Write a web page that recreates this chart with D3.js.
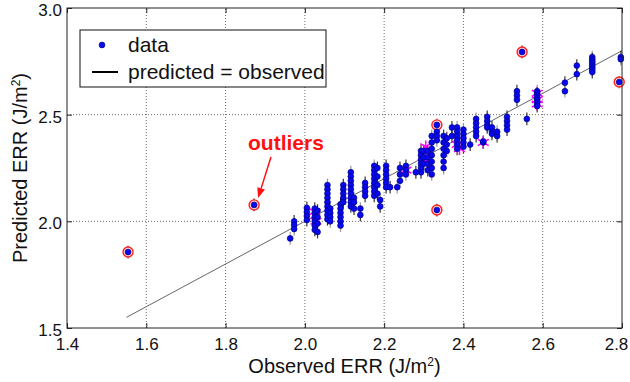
<!DOCTYPE html>
<html>
<head>
<meta charset="utf-8">
<script src="https://cdn.jsdelivr.net/npm/d3@7"></script>
<style>
  body { margin: 0; background: #fff; }
  text { font-family: "Liberation Sans", Arial, sans-serif; }
</style>
</head>
<body>
<svg id="chart" width="630" height="382"></svg>
<script>
// observed ERR of each specimen group, and the predicted values for that group
const observedGroups = [1.963, 1.973, 2.005, 2.025, 2.032, 2.057, 2.064, 2.09, 2.097, 2.116,
    2.124, 2.14, 2.152, 2.175, 2.183, 2.19, 2.205, 2.215, 2.233, 2.24,
    2.255, 2.28, 2.293, 2.30, 2.31, 2.32, 2.333, 2.35, 2.358, 2.371,
    2.384, 2.40, 2.417, 2.432, 2.45, 2.46, 2.472, 2.485, 2.51, 2.535,
    2.56, 2.586, 2.656, 2.686, 2.725, 2.797];
const predictedGroups = [
    [1.92],
    [2.00, 1.983, 1.964],
    [2.063, 2.044, 2.025, 2.006],
    [2.06, 2.04, 2.02, 2.0, 1.98, 1.96],
    [2.05, 2.02, 1.99, 1.95],
    [2.17, 2.15, 2.13, 2.11, 2.09, 2.07, 2.05, 2.03, 2.01],
    [2.06, 2.04, 2.02, 2.0],
    [2.08, 2.06, 2.04, 2.02, 2.0, 1.98],
    [2.17, 2.15, 2.13, 2.11, 2.09],
    [2.23, 2.21, 2.19, 2.17, 2.15, 2.13, 2.11, 2.09, 2.07],
    [2.11, 2.09, 2.06],
    [2.06, 2.03],
    [2.18, 2.16, 2.14, 2.12],
    [2.26, 2.24, 2.22, 2.20, 2.18, 2.16, 2.14, 2.12],
    [2.25, 2.21, 2.17, 2.13],
    [2.10, 2.07],
    [2.26, 2.24, 2.22, 2.20, 2.18, 2.16],
    [2.16],
    [2.16],
    [2.25, 2.22, 2.19],
    [2.26, 2.24, 2.22],
    [2.23],
    [2.33, 2.31, 2.29, 2.27, 2.25, 2.23],
    [2.33, 2.30, 2.27],
    [2.33, 2.30, 2.27, 2.24],
    [2.40, 2.37, 2.34, 2.31, 2.28, 2.25, 2.22],
    [2.42, 2.40, 2.38],
    [2.40, 2.37, 2.34, 2.31, 2.28, 2.25],
    [2.39, 2.36, 2.33],
    [2.44, 2.40],
    [2.44, 2.42, 2.40, 2.38, 2.36, 2.34],
    [2.43, 2.41, 2.39, 2.37, 2.35],
    [2.36],
    [2.48, 2.46, 2.44, 2.42, 2.40],
    [2.37, 2.375],
    [2.49, 2.47, 2.45, 2.44],
    [2.44, 2.42, 2.41],
    [2.40, 2.42],
    [2.49, 2.47, 2.45, 2.43],
    [2.61, 2.59, 2.57],
    [2.48],
    [2.61, 2.60, 2.59, 2.58, 2.57, 2.56, 2.55, 2.54],
    [2.65, 2.61],
    [2.73, 2.69],
    [2.77, 2.76, 2.75, 2.74, 2.73, 2.72, 2.71, 2.70],
    [2.77, 2.76]
];
// points marked with a magenta star
const flaggedObs  = [2.025, 2.028, 2.255, 2.30, 2.305, 2.305, 2.384, 2.39, 2.45, 2.586, 2.586, 2.586];
const flaggedPred = [2.045, 2.00, 2.24, 2.30, 2.35, 2.29, 2.36, 2.34, 2.37, 2.60, 2.57, 2.55];
// outliers
const outlierObs  = [1.554, 1.872, 2.333, 2.333, 2.548, 2.793];
const outlierPred = [1.856, 2.077, 2.452, 2.053, 2.794, 2.653];
const lineRange = [1.55, 2.8];
const xTicks = [1.4, 1.6, 1.8, 2.0, 2.2, 2.4, 2.6, 2.8];
const yTicks = [1.5, 2.0, 2.5, 3.0];
const errHalf = 0.03;

const margin = {left: 67, right: 8, top: 8, bottom: 54};
const svg = d3.select('#chart');
const W = 630, H = 382;
const x = d3.scaleLinear().domain([1.4, 2.8]).range([margin.left, W - margin.right]);
const y = d3.scaleLinear().domain([1.5, 3.0]).range([H - margin.bottom, margin.top]);

// flatten the groups into points
let points = [];
observedGroups.forEach((o, i) => {
    predictedGroups[i].forEach(p => points.push({o: o, p: p}));
});
outlierObs.forEach((o, i) => points.push({o: o, p: outlierPred[i], out: true}));

// grid
const grid = svg.append('g').attr('stroke', '#444').attr('stroke-dasharray', '1,2').attr('stroke-width', 0.8);
grid.selectAll('.gx').data(xTicks.slice(1, -1)).enter().append('line')
    .attr('x1', d => x(d)).attr('x2', d => x(d))
    .attr('y1', y(1.5)).attr('y2', y(3.0));
grid.selectAll('.gy').data(yTicks.slice(1, -1)).enter().append('line')
    .attr('y1', d => y(d)).attr('y2', d => y(d))
    .attr('x1', x(1.4)).attr('x2', x(2.8));

// predicted = observed line
svg.append('line')
    .attr('x1', x(lineRange[0])).attr('y1', y(lineRange[0]))
    .attr('x2', x(lineRange[1])).attr('y2', y(lineRange[1]))
    .attr('stroke', '#666').attr('stroke-width', 1);

// error bars
svg.append('g').selectAll('line').data(points).enter().append('line')
    .attr('x1', d => x(d.o)).attr('x2', d => x(d.o))
    .attr('y1', d => y(d.p - errHalf)).attr('y2', d => y(d.p + errHalf))
    .attr('stroke', (d, i) => i % 3 === 0 ? '#999' : '#333')
    .attr('stroke-width', 1.2);

// magenta stars
const star = d3.symbol().type(d3.symbolAsterisk).size(110);
svg.append('g').selectAll('path').data(flaggedObs).enter().append('path')
    .attr('transform', (d, i) => `translate(${x(d)},${y(flaggedPred[i])})`)
    .attr('d', star)
    .attr('fill', 'none').attr('stroke', '#ff00ff').attr('stroke-width', 1.5);

// outlier rings
svg.append('g').selectAll('circle').data(outlierObs).enter().append('circle')
    .attr('cx', d => x(d)).attr('cy', (d, i) => y(outlierPred[i]))
    .attr('r', 5)
    .attr('fill', '#ffd6d6').attr('stroke', '#ff2020').attr('stroke-width', 1.4);

// data points
svg.append('g').selectAll('circle').data(points).enter().append('circle')
    .attr('cx', d => x(d.o)).attr('cy', d => y(d.p))
    .attr('r', 2.9)
    .attr('fill', '#0808f0').attr('stroke', '#000088').attr('stroke-width', 0.7);

// frame
svg.append('rect')
    .attr('x', x(1.4)).attr('y', y(3.0))
    .attr('width', x(2.8) - x(1.4)).attr('height', y(1.5) - y(3.0))
    .attr('fill', 'none').attr('stroke', '#222').attr('stroke-width', 1);

// axes
const fmt = d3.format('.1f');
const xAxis = svg.append('g').attr('transform', `translate(0,${y(1.5)})`)
    .call(d3.axisBottom(x).tickValues(xTicks).tickFormat(fmt).tickSizeInner(-5).tickSizeOuter(0).tickPadding(10));
const yAxis = svg.append('g').attr('transform', `translate(${x(1.4)},0)`)
    .call(d3.axisLeft(y).tickValues(yTicks).tickFormat(fmt).tickSizeInner(-5).tickSizeOuter(0).tickPadding(5));
svg.append('g').attr('transform', `translate(0,${y(3.0)})`)
    .call(d3.axisTop(x).tickValues(xTicks).tickFormat('').tickSizeInner(-5).tickSizeOuter(0));
svg.append('g').attr('transform', `translate(${x(2.8)},0)`)
    .call(d3.axisRight(y).tickValues(yTicks).tickFormat('').tickSizeInner(-5).tickSizeOuter(0));
svg.selectAll('.domain').remove();
svg.selectAll('.tick line').attr('stroke', '#222');
svg.selectAll('.tick text').attr('font-size', 17).attr('fill', '#111')
    .attr('font-family', '"Liberation Sans", Arial, sans-serif');
yAxis.selectAll('.tick text').attr('dy', '0.45em');
// keep the last x label inside the window
xAxis.selectAll('.tick text').filter(d => d === 2.8).attr('dx', -6);

// axis titles
const xt = svg.append('text').attr('x', (x(1.4) + x(2.8)) / 2).attr('y', 373)
    .attr('text-anchor', 'middle').attr('font-size', 20).attr('fill', '#111');
xt.append('tspan').text('Observed ERR (J/m');
xt.append('tspan').attr('baseline-shift', 'super').attr('font-size', 12).text('2');
xt.append('tspan').text(')');

const yt = svg.append('text')
    .attr('transform', `translate(27,${(y(1.5) + y(3.0)) / 2}) rotate(-90)`)
    .attr('text-anchor', 'middle').attr('font-size', 20).attr('fill', '#111');
yt.append('tspan').text('Predicted ERR (J/m');
yt.append('tspan').attr('baseline-shift', 'super').attr('font-size', 12).text('2');
yt.append('tspan').text(')');

// legend
const lg = svg.append('g');
lg.append('rect').attr('x', 80).attr('y', 30).attr('width', 246).attr('height', 57)
    .attr('fill', '#fff').attr('stroke', '#111').attr('stroke-width', 1);
lg.append('circle').attr('cx', 102).attr('cy', 45).attr('r', 2.9)
    .attr('fill', '#0808f0').attr('stroke', '#000088').attr('stroke-width', 0.7);
lg.append('text').attr('x', 128).attr('y', 52).attr('font-size', 21).attr('fill', '#111').text('data');
lg.append('line').attr('x1', 92).attr('x2', 118).attr('y1', 72).attr('y2', 72)
    .attr('stroke', '#000').attr('stroke-width', 2);
lg.append('text').attr('x', 128).attr('y', 79).attr('font-size', 21).attr('fill', '#111').text('predicted = observed');

// outliers annotation
svg.append('text').attr('x', 248).attr('y', 150)
    .attr('font-size', 21).attr('font-weight', 'bold').attr('fill', '#ff1010').text('outliers');
const tip = [x(outlierObs[1]) + 4, y(outlierPred[1]) - 7];
const tail = [271, 157];
const ang = Math.atan2(tip[1] - tail[1], tip[0] - tail[0]);
const hl = 10, hw = 4;
const base = [tip[0] - hl * Math.cos(ang), tip[1] - hl * Math.sin(ang)];
svg.append('line').attr('x1', tail[0]).attr('y1', tail[1]).attr('x2', base[0]).attr('y2', base[1])
    .attr('stroke', '#ff1010').attr('stroke-width', 1.5);
svg.append('path')
    .attr('d', d3.line()([tip,
        [base[0] + hw * Math.sin(ang), base[1] - hw * Math.cos(ang)],
        [base[0] - hw * Math.sin(ang), base[1] + hw * Math.cos(ang)]]) + 'Z')
    .attr('fill', '#ff1010');
</script>
</body>
</html>
